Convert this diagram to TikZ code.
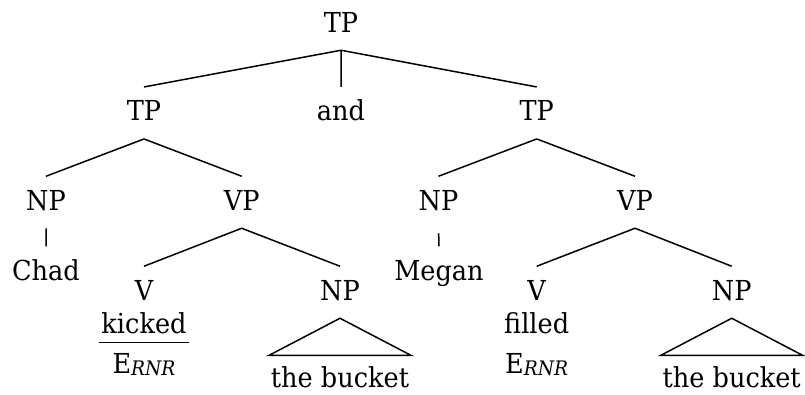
\documentclass[tikz,border=0pt]{standalone}
\usepackage{fontspec}
\setmainfont{DejaVu Serif}[FakeStretch=0.93]
\usetikzlibrary{positioning}
\newcommand\rnr{E{\fontsize{20}{20}\selectfont\itshape\raisebox{-2pt}{RNR}}}

\begin{document}
\begin{tikzpicture}[x=1pt, y=-1pt, line width=1.5pt,
  every node/.style={anchor=base, inner xsep=1pt, font=\fontsize{27.5}{33}\selectfont},
  cat/.style={text height=20pt, text depth=4.5pt, inner ysep=13pt},
  word/.style={text height=20pt, text depth=8.4pt, inner ysep=0pt, inner xsep=1.5pt},
  leaf/.style={text height=31pt, text depth=1pt, inner ysep=0pt}]
\useasboundingbox (0,0) rectangle (805,394);
\node[cat] (root) at (341,32) {TP};
\node[cat] (tp-left) at (144,120.7) {TP};
\node[cat] (and) at (341,120.7) {and};
\node[cat] (tp-right) at (536.7,120.7) {TP};
\draw (root.south) -- (tp-left.north) (root.south) -- (and.north) (root.south) -- (tp-right.north);
\node[cat] (np-left) at (46,210) {NP};
\node[cat] (vp-left) at (241.7,210) {VP};
\node[cat] (np-right) at (438.5,210) {NP};
\node[cat] (vp-right) at (635,210) {VP};
\draw (tp-left.south) -- (np-left.north) (tp-left.south) -- (vp-left.north)
      (tp-right.south) -- (np-right.north) (tp-right.south) -- (vp-right.north);
\node[cat] (chad) at (46,280) {Chad};
\node[cat] (megan) at (439,280) {Megan};
\draw[shorten <=5pt] (np-left.south) -- (chad.north) (np-right.south) -- (megan.north);
\node[cat] (v-left) at (144,300) {V};
\node[cat] (obj-left) at (340,300) {NP};
\node[cat] (v-right) at (536.7,300) {V};
\node[cat] (obj-right) at (731.7,300) {NP};
\draw (vp-left.south) -- (v-left.north) (vp-left.south) -- (obj-left.north)
      (vp-right.south) -- (v-right.north) (vp-right.south) -- (obj-right.north);
\node[word] (kicked) at (144,333.3) {kicked};
\draw (kicked.south west) -- (kicked.south east);
\node[word] (filled) at (536.7,333.3) {filled};
\node (e-left) at (144,373.3) {\rnr};
\node (e-right) at (536.7,373.3) {\rnr};
\node[leaf] (bucket-left) at (340,387) {the bucket};
\node[leaf] (bucket-right) at (731.7,387) {the bucket};
\draw (obj-left.south) -- (bucket-left.north west) -- (bucket-left.north east) -- cycle
      (obj-right.south) -- (bucket-right.north west) -- (bucket-right.north east) -- cycle;
\end{tikzpicture}
\end{document}
